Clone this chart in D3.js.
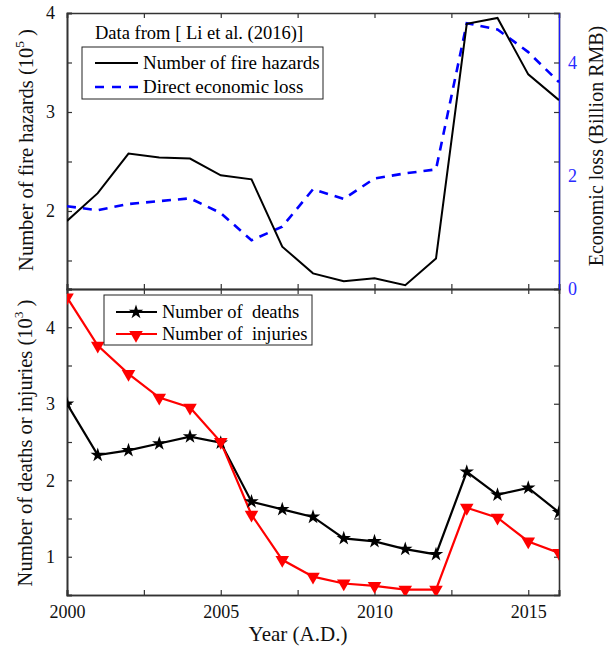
<!DOCTYPE html>
<head>
  <meta charset="utf-8">
  <script src="https://d3js.org/d3.v7.min.js"></script>
  <style>
    body { margin:0; background:#fff; }
    svg { display:block; }
    text { font-family: "Liberation Serif", "Times New Roman", serif; }
  </style>
</head>
<body>
<script>
  // data
  var years = [2000, 2001, 2002, 2003, 2004, 2005, 2006, 2007, 2008,
               2009, 2010, 2011, 2012, 2013, 2014, 2015, 2016];
  var fireHazards = [1.90, 2.18, 2.58, 2.54, 2.53, 2.36, 2.32, 1.64, 1.37,
                     1.29, 1.32, 1.25, 1.52, 3.89, 3.95, 3.38, 3.12];     // 10^5
  var economicLoss = [1.46, 1.39, 1.50, 1.55, 1.60, 1.34, 0.86, 1.10, 1.76,
                      1.59, 1.95, 2.04, 2.11, 4.69, 4.58, 4.18, 3.65];    // billion RMB
  var deaths = [3.00, 2.33, 2.39, 2.48, 2.57, 2.49, 1.72, 1.62, 1.52,
                1.24, 1.20, 1.10, 1.03, 2.11, 1.81, 1.90, 1.58];          // 10^3
  var injuries = [4.39, 3.76, 3.39, 3.08, 2.95, 2.50, 1.55, 0.96, 0.74,
                  0.65, 0.62, 0.57, 0.57, 1.64, 1.51, 1.20, 1.05];        // 10^3
  var yearTicks = [2000, 2005, 2010, 2015];
  var yearMinor = [2002.5, 2007.5, 2012.5];

  var W = 612, H = 649;
  var left = 67, right = 559, top1 = 13, mid = 289, bot = 595;
  var axisCol = "#333";

  var svg = d3.select("body").append("svg").attr("width", W).attr("height", H);

  var x = d3.scaleLinear().domain([2000, 2016]).range([left, right]);
  var yFire = d3.scaleLinear().domain([1.212, 4]).range([mid, top1]);
  var yLoss = d3.scaleLinear().domain([0, 4.87]).range([mid, top1]);
  var yCas = d3.scaleLinear().domain([0.5, 4.5]).range([bot, mid]);

  svg.append("defs").append("clipPath").attr("id", "clipTop")
    .append("rect").attr("x", left).attr("y", top1).attr("width", right - left).attr("height", mid - top1);
  svg.select("defs").append("clipPath").attr("id", "clipBot")
    .append("rect").attr("x", left).attr("y", mid).attr("width", right - left).attr("height", bot - mid);

  // inward ticks on all sides of a panel
  function frame(yScale, yTop, yBottom, yMajor, yMinorV, showX) {
    var g = svg.append("g");
    var all = yMajor.concat(yMinorV);
    g.append("g").attr("transform", "translate(" + left + ",0)")
      .call(d3.axisLeft(yScale).tickValues(yMajor).tickSize(-5).tickPadding(12).tickFormat(d3.format("d")));
    g.append("g").attr("transform", "translate(" + left + ",0)")
      .call(d3.axisLeft(yScale).tickValues(yMinorV).tickSize(-5).tickFormat(""));
    g.append("g").attr("transform", "translate(" + right + ",0)")
      .call(d3.axisRight(yScale).tickValues(all).tickSize(-5).tickFormat(""));
    var xa = d3.axisBottom(x).tickValues(yearTicks).tickSize(-5).tickPadding(10).tickFormat(d3.format("d"));
    g.append("g").attr("transform", "translate(0," + yBottom + ")")
      .call(showX ? xa : xa.tickFormat(""));
    g.append("g").attr("transform", "translate(0," + yBottom + ")")
      .call(d3.axisBottom(x).tickValues(yearMinor).tickSize(-5).tickFormat(""));
    g.append("g").attr("transform", "translate(0," + yTop + ")")
      .call(d3.axisTop(x).tickValues(yearTicks.concat(yearMinor)).tickSize(-5).tickFormat(""));
    g.selectAll(".domain").attr("stroke", axisCol).attr("stroke-width", 1.6);
    g.selectAll(".tick line").attr("stroke", axisCol).attr("stroke-width", 1.2);
    g.selectAll(".tick text").attr("font-family", "Liberation Serif").attr("font-size", 18).attr("fill", "#111");
    return g;
  }

  frame(yFire, top1, mid, [2, 3, 4], [1.5, 2.5, 3.5], false);
  frame(yCas, mid, bot, [1, 2, 3, 4], [1.5, 2.5, 3.5], true);

  // right axis (economic loss), blue
  var ra = svg.append("g").attr("transform", "translate(" + right + ",0)")
    .call(d3.axisRight(yLoss).tickValues([0, 2, 4]).tickSize(0).tickPadding(9).tickFormat(d3.format("d")));
  ra.select(".domain").attr("stroke", "#1a1aff").attr("stroke-width", 1.2);
  ra.selectAll(".tick text").attr("font-family", "Liberation Serif").attr("font-size", 18).attr("fill", "#2a2aff");

  // top panel lines
  var gTop = svg.append("g").attr("clip-path", "url(#clipTop)");
  gTop.append("path").datum(years)
    .attr("d", d3.line().x(function(d) { return x(d); }).y(function(d, i) { return yLoss(economicLoss[i]); }))
    .attr("fill", "none").attr("stroke", "#0000ff").attr("stroke-width", 2.6).attr("stroke-dasharray", "9,7");
  gTop.append("path").datum(years)
    .attr("d", d3.line().x(function(d) { return x(d); }).y(function(d, i) { return yFire(fireHazards[i]); }))
    .attr("fill", "none").attr("stroke", "#000").attr("stroke-width", 2);

  // bottom panel lines and markers
  var gBot = svg.append("g").attr("clip-path", "url(#clipBot)");
  var star = d3.symbol().type(d3.symbolStar).size(65);
  var tri = d3.symbol().type(d3.symbolTriangle).size(80);

  gBot.append("path").datum(years)
    .attr("d", d3.line().x(function(d) { return x(d); }).y(function(d, i) { return yCas(deaths[i]); }))
    .attr("fill", "none").attr("stroke", "#000").attr("stroke-width", 2.2);
  gBot.append("path").datum(years)
    .attr("d", d3.line().x(function(d) { return x(d); }).y(function(d, i) { return yCas(injuries[i]); }))
    .attr("fill", "none").attr("stroke", "#ff0000").attr("stroke-width", 2.2);
  gBot.selectAll(".star").data(years).enter().append("path")
    .attr("d", star)
    .attr("transform", function(d, i) { return "translate(" + x(d) + "," + yCas(deaths[i]) + ")"; })
    .attr("fill", "#000");
  gBot.selectAll(".tri").data(years).enter().append("path")
    .attr("d", tri)
    .attr("transform", function(d, i) { return "translate(" + x(d) + "," + yCas(injuries[i]) + ") rotate(180)"; })
    .attr("fill", "#ff0000");

  // legends
  svg.append("text").attr("x", 95).attr("y", 39).attr("font-size", 18.5).text("Data from [ Li et al. (2016)]");
  svg.append("rect").attr("x", 82).attr("y", 47).attr("width", 241).attr("height", 52)
    .attr("fill", "#fff").attr("stroke", "#222").attr("stroke-width", 1);
  svg.append("line").attr("x1", 95).attr("x2", 138).attr("y1", 63).attr("y2", 63)
    .attr("stroke", "#000").attr("stroke-width", 2);
  svg.append("text").attr("x", 143).attr("y", 69).attr("font-size", 19).text("Number of fire hazards");
  svg.append("line").attr("x1", 95).attr("x2", 138).attr("y1", 87).attr("y2", 87)
    .attr("stroke", "#0000ff").attr("stroke-width", 2.6).attr("stroke-dasharray", "9,8");
  svg.append("text").attr("x", 143).attr("y", 93).attr("font-size", 19).text("Direct economic loss");

  svg.append("rect").attr("x", 104).attr("y", 295).attr("width", 208).attr("height", 50)
    .attr("fill", "#fff").attr("stroke", "#222").attr("stroke-width", 1);
  svg.append("line").attr("x1", 116).attr("x2", 157).attr("y1", 312).attr("y2", 312)
    .attr("stroke", "#000").attr("stroke-width", 2.2);
  svg.append("path").attr("d", star).attr("transform", "translate(136,312)").attr("fill", "#000");
  svg.append("text").attr("x", 162).attr("y", 318).attr("font-size", 18.5).attr("xml:space", "preserve").text("Number of  deaths");
  svg.append("line").attr("x1", 116).attr("x2", 157).attr("y1", 334).attr("y2", 334)
    .attr("stroke", "#ff0000").attr("stroke-width", 2.2);
  svg.append("path").attr("d", tri).attr("transform", "translate(136,335) rotate(180)").attr("fill", "#ff0000");
  svg.append("text").attr("x", 162).attr("y", 340).attr("font-size", 18.5).attr("xml:space", "preserve").text("Number of  injuries");

  // axis titles
  function yTitle(cx, cy, main, sup, size) {
    var t = svg.append("text").attr("transform", "translate(" + cx + "," + cy + ") rotate(-90)")
      .attr("text-anchor", "middle").attr("font-size", size).attr("fill", "#111");
    t.append("tspan").text(main);
    if (sup) {
      t.append("tspan").attr("font-size", size * 0.65).attr("dy", -9).text(sup);
      t.append("tspan").attr("dy", 9).text(" )");
    }
  }
  yTitle(33, 150, "Number of fire hazards (10", "5", 20.5);
  yTitle(32, 443, "Number of deaths or injuries (10", "3", 20.5);
  yTitle(603, 146, "Economic loss (Billion RMB)", null, 20);
  svg.append("text").attr("x", 298).attr("y", 641).attr("text-anchor", "middle")
    .attr("font-size", 21).attr("fill", "#111").text("Year (A.D.)");
</script>
</body>
